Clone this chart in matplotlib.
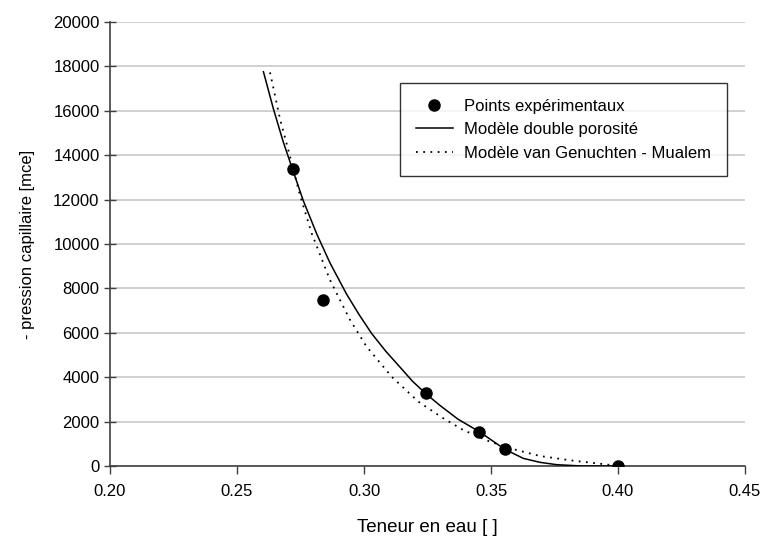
import numpy as np
import matplotlib.pyplot as plt

plt.rcParams['font.family'] = ['Liberation Sans', 'DejaVu Sans']

# experimental points
theta_exp = [0.272, 0.284, 0.3244, 0.3454, 0.3556, 0.400]
h_exp = [13400, 7500, 3270, 1545, 750, 0]

# double porosity model
theta_dp = [0.2604, 0.2643, 0.2682, 0.2719, 0.2761, 0.2814, 0.2866, 0.2931,
            0.2980, 0.3030, 0.3085, 0.3142, 0.3190, 0.3244, 0.3299, 0.3370,
            0.3454, 0.3555, 0.3627, 0.3693, 0.3759, 0.3858, 0.4000]
h_dp = [17760, 16100, 14600, 13350, 11950, 10450, 9150, 7750,
        6830, 5970, 5180, 4450, 3830, 3250, 2730, 2110,
        1545, 750, 345, 165, 60, 0, 0]

# van Genuchten - Mualem model
theta_vg = [0.2630, 0.2669, 0.2702, 0.2748, 0.2794, 0.2866, 0.2945, 0.3010,
            0.3109, 0.3214, 0.3312, 0.3391, 0.3496, 0.3601, 0.3693, 0.3824,
            0.3955, 0.4000]
h_vg = [17730, 15650, 14230, 12200, 10480, 8380, 6580, 5380,
        4020, 2900, 2150, 1620, 1095, 720, 450, 240,
        70, 0]

fig = plt.figure(figsize=(7.63, 5.41), dpi=100)
ax = fig.add_axes([0.1442, 0.1386, 0.8322, 0.8207])

ax.plot(theta_dp, h_dp, color='black', lw=1.1, label='Modèle double porosité', zorder=3)
ax.plot(theta_vg, h_vg, color='black', lw=1.3, ls=(0, (1, 3)),
        label='Modèle van Genuchten - Mualem', zorder=3)
ax.plot(theta_exp, h_exp, 'o', color='black', ms=8, label='Points expérimentaux', zorder=4)

ax.set_xlim(0.20, 0.45)
ax.set_ylim(0, 20000)
ax.set_xticks(np.arange(0.20, 0.451, 0.05))
ax.set_xticklabels(['0.20', '0.25', '0.30', '0.35', '0.40', '0.45'])
ax.set_yticks(np.arange(0, 20001, 2000))
ax.yaxis.grid(True, color='#c8c8c8', lw=1.2)
ax.set_axisbelow(True)

for s in ['top', 'right']:
    ax.spines[s].set_visible(False)
for s in ['left', 'bottom']:
    ax.spines[s].set_color('#404040')
    ax.spines[s].set_linewidth(1.2)
ax.tick_params(axis='y', direction='inout', length=9, width=1, colors='#404040',
               labelcolor='black', labelsize=12, pad=3)
ax.tick_params(axis='x', direction='out', length=6, width=1, colors='#404040',
               labelcolor='black', labelsize=12, pad=7)

ax.set_xlabel('Teneur en eau [ ]', fontsize=13.5, labelpad=14)
ax.set_ylabel('- pression capillaire [mce]', fontsize=12, labelpad=13)

h, l = ax.get_legend_handles_labels()
order = [2, 0, 1]
leg = ax.legend([h[i] for i in order], [l[i] for i in order], loc='upper right',
                bbox_to_anchor=(0.9717, 0.8626), fontsize=12, frameon=True,
                fancybox=False, edgecolor='black', borderpad=0.95, handlelength=2.2,
                handletextpad=0.7, labelspacing=0.5, borderaxespad=0)
leg.get_frame().set_linewidth(1.0)

fig.savefig('out.png', dpi=100)
